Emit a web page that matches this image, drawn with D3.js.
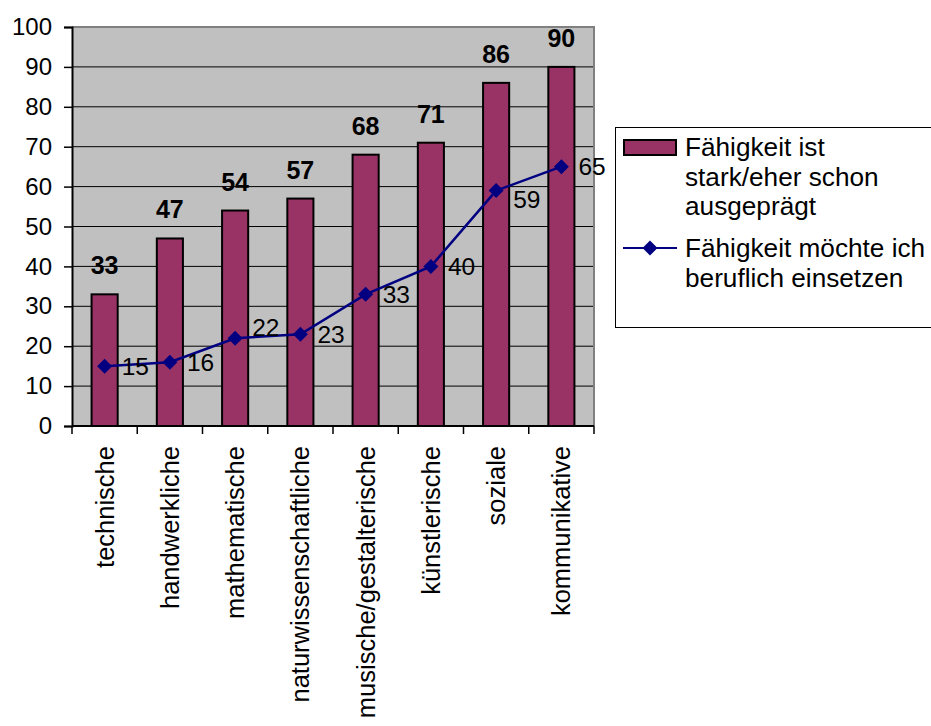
<!DOCTYPE html>
<html>
<head>
<meta charset="utf-8">
<script src="https://cdn.jsdelivr.net/npm/d3@7"></script>
<style>
  html, body { margin: 0; padding: 0; background: #ffffff; overflow: hidden; }
  svg { display: block; font-family: "Liberation Sans", Arial, sans-serif; }
</style>
</head>
<body>
<svg id="chart" width="931" height="726"></svg>
<script>
// Fähigkeiten: Selbsteinschätzung vs. beruflicher Einsatzwunsch (in %)
const categories = ["technische", "handwerkliche", "mathematische", "naturwissenschaftliche",
                    "musische/gestalterische", "künstlerische", "soziale", "kommunikative"];
const staerke = [33, 47, 54, 57, 68, 71, 86, 90];
const beruflich = [15, 16, 22, 23, 33, 40, 59, 65];
const yTicks = [0, 10, 20, 30, 40, 50, 60, 70, 80, 90, 100];
const seriesNames = ["Fähigkeit ist stark/eher schon ausgeprägt", "Fähigkeit möchte ich beruflich einsetzen"];
const legendLines = [["Fähigkeit ist", "stark/eher schon", "ausgeprägt"],
                     ["Fähigkeit möchte ich", "beruflich einsetzen"]];

const barColor = "#993366";
const lineColor = "#000080";
const plotBg = "#c0c0c0";

const svg = d3.select("#chart");
const plot = { left: 72, right: 594, top: 27, bottom: 426 };

const x = d3.scaleBand().domain(categories).range([plot.left, plot.right]).padding(0);
const y = d3.scaleLinear().domain([0, 100]).range([plot.bottom, plot.top]);
const bw = x.bandwidth();
const cx = c => x(c) + bw / 2;

// plot background
svg.append("rect")
  .attr("x", plot.left).attr("y", plot.top)
  .attr("width", plot.right - plot.left).attr("height", plot.bottom - plot.top)
  .attr("fill", plotBg);

// horizontal gridlines
svg.append("g").selectAll("line").data(yTicks.filter(v => v > 0)).join("line")
  .attr("x1", plot.left).attr("x2", plot.right)
  .attr("y1", d => y(d)).attr("y2", d => y(d))
  .attr("stroke", "#000").attr("stroke-width", 1);

// plot border (top / right)
svg.append("path")
  .attr("d", `M${plot.left},${plot.top}H${plot.right}V${plot.bottom}`)
  .attr("fill", "none").attr("stroke", "#808080").attr("stroke-width", 2);

// bars
svg.append("g").selectAll("rect").data(categories).join("rect")
  .attr("x", c => x(c) + bw * 0.3)
  .attr("width", bw * 0.4)
  .attr("y", (c, i) => y(staerke[i]))
  .attr("height", (c, i) => y(0) - y(staerke[i]))
  .attr("fill", barColor)
  .attr("stroke", "#000").attr("stroke-width", 2);

// bar value labels
svg.append("g").selectAll("text").data(categories).join("text")
  .attr("x", c => cx(c))
  .attr("y", (c, i) => y(staerke[i]) - 20)
  .attr("text-anchor", "middle")
  .attr("font-size", 25).attr("font-weight", "bold")
  .text((c, i) => staerke[i]);

// y axis
const yAxis = d3.axisLeft(y).tickValues(yTicks).tickSize(8).tickPadding(12).tickFormat(d3.format("d"));
const gy = svg.append("g").attr("transform", `translate(${plot.left},0)`).call(yAxis);
gy.select(".domain").attr("stroke", "#000").attr("stroke-width", 2);
gy.selectAll(".tick line").attr("stroke", "#000").attr("stroke-width", 1.5);
gy.selectAll(".tick text").attr("font-size", 24).attr("fill", "#000")
  .attr("font-family", "Liberation Sans, Arial, sans-serif");

// x axis baseline and boundary ticks
svg.append("line")
  .attr("x1", plot.left).attr("x2", plot.right)
  .attr("y1", y(0)).attr("y2", y(0))
  .attr("stroke", "#000").attr("stroke-width", 2);
const bounds = categories.map(c => x(c)).concat([plot.right]);
svg.append("g").selectAll("line").data(bounds).join("line")
  .attr("x1", d => d).attr("x2", d => d)
  .attr("y1", y(0)).attr("y2", y(0) + 8)
  .attr("stroke", "#000").attr("stroke-width", 1.5);

// category labels, rotated
svg.append("g").selectAll("text").data(categories).join("text")
  .attr("transform", c => `translate(${cx(c)},446) rotate(-90)`)
  .attr("text-anchor", "end")
  .attr("dy", "0.35em")
  .attr("font-size", 25.5)
  .text(c => c);

// line series
const line = d3.line().x((d, i) => cx(categories[i])).y(d => y(d));
svg.append("path").datum(beruflich)
  .attr("d", line)
  .attr("fill", "none").attr("stroke", lineColor).attr("stroke-width", 2.5);

const diamond = s => `M0,${-s}L${s},0L0,${s}L${-s},0Z`;
svg.append("g").selectAll("path").data(beruflich).join("path")
  .attr("transform", (d, i) => `translate(${cx(categories[i])},${y(d)})`)
  .attr("d", diamond(7.5))
  .attr("fill", lineColor);

// line value labels (a couple are nudged to stay clear of the line)
const labelNudge = { "mathematische": -11, "soziale": 9 };
svg.append("g").selectAll("text").data(beruflich).join("text")
  .attr("x", (d, i) => cx(categories[i]) + 17)
  .attr("y", (d, i) => y(d) + (labelNudge[categories[i]] || 0))
  .attr("dy", "0.35em")
  .attr("font-size", 24.5)
  .text(d => d);

// legend (box runs past the right edge of the canvas)
const lg = svg.append("g");
lg.append("rect")
  .attr("x", 615.5).attr("y", 127.5).attr("width", 330).attr("height", 200)
  .attr("fill", "#fff").attr("stroke", "#000").attr("stroke-width", 1);
lg.append("rect")
  .attr("x", 624).attr("y", 140).attr("width", 52).attr("height", 15)
  .attr("fill", barColor).attr("stroke", "#000").attr("stroke-width", 2);
lg.append("line")
  .attr("x1", 623).attr("x2", 677).attr("y1", 248).attr("y2", 248)
  .attr("stroke", lineColor).attr("stroke-width", 2);
lg.append("path")
  .attr("transform", "translate(650,248)")
  .attr("d", diamond(7.5)).attr("fill", lineColor);

const legendBaselines = [[156, 186, 215], [257, 287]];
legendLines.forEach((lines, s) => {
  const t = lg.append("text").attr("font-size", 26.2).attr("aria-label", seriesNames[s]);
  lines.forEach((ln, k) => {
    t.append("tspan").attr("x", 685).attr("y", legendBaselines[s][k]).text(ln);
  });
});
</script>
</body>
</html>
